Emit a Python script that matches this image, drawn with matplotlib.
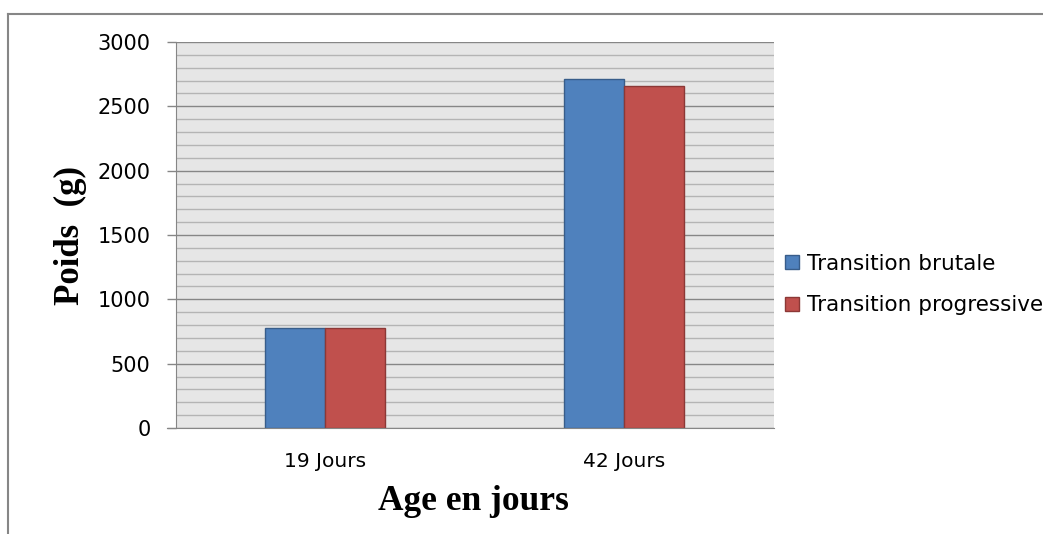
import numpy as np
import matplotlib.pyplot as plt
from matplotlib.lines import Line2D

categories = ["19 Jours", "42 Jours"]
brutale = [775, 2715]
progressive = [775, 2655]
series_names = ["Transition brutale", "Transition progressive"]

BLUE, BLUE_EDGE = "#4f81bd", "#385d8a"
RED, RED_EDGE = "#c0504d", "#8c3836"
GRID_MAJOR, GRID_MINOR = "#868686", "#b4b4b4"

fig = plt.figure(figsize=(10.43, 5.34), dpi=100)
ax = fig.add_axes([175.5 / 1043, 106 / 534, 598 / 1043, 386 / 534])
ax.set_facecolor("#e6e6e6")

x = np.arange(len(categories))
w = 0.2
ax.bar(x - w / 2, brutale, w, color=BLUE, edgecolor=BLUE_EDGE, linewidth=1,
       label=series_names[0], zorder=3)
ax.bar(x + w / 2, progressive, w, color=RED, edgecolor=RED_EDGE, linewidth=1,
       label=series_names[1], zorder=3)

ax.set_xlim(-0.5, len(categories) - 0.5)
ax.set_ylim(0, 3000)
ax.set_yticks(np.arange(0, 3001, 500))
ax.set_yticks(np.arange(0, 3001, 100), minor=True)
ax.grid(which="minor", axis="y", color=GRID_MINOR, linewidth=1, zorder=1)
ax.grid(which="major", axis="y", color=GRID_MAJOR, linewidth=1, zorder=2)
ax.set_axisbelow(True)

ax.set_xticks(x)
ax.set_xticklabels(categories)
ax.tick_params(axis="x", length=0, pad=17, labelsize=14.5)
ax.tick_params(axis="y", which="major", length=6.5, width=1, color=GRID_MAJOR,
               pad=11.5, labelsize=15)
ax.tick_params(axis="y", which="minor", length=0)

for side in ["top", "right"]:
    ax.spines[side].set_visible(False)
ax.spines["left"].set_color(GRID_MAJOR)
ax.spines["bottom"].set_color(GRID_MAJOR)
ax.spines["bottom"].set_bounds(-0.53, 1.5)
ax.spines["bottom"].set_zorder(4)

fig.text(70 / 1043, 1 - 235 / 534, "Poids  (g)", rotation=90, ha="center",
         va="center", family="Liberation Serif", weight="bold", fontsize=25)
fig.text(473 / 1043, 1 - 501 / 534, "Age en jours", ha="center", va="center",
         family="Liberation Serif", weight="bold", fontsize=25.5)

fig.legend(loc="center left", bbox_to_anchor=(785 / 1043, 1 - 284.5 / 534),
           frameon=False, prop={"size": 15.5},
           handlelength=0.65, handleheight=0.65, handletextpad=0.37,
           labelspacing=1.0, borderaxespad=0, borderpad=0)

# outer chart frame
fig.add_artist(Line2D([8 / 1043, 1], [1 - 14 / 534] * 2, color=GRID_MAJOR,
                      linewidth=1.5, transform=fig.transFigure))
fig.add_artist(Line2D([8 / 1043] * 2, [0, 1 - 14 / 534], color=GRID_MAJOR,
                      linewidth=1.5, transform=fig.transFigure))

fig.savefig("out.png", dpi=100)
